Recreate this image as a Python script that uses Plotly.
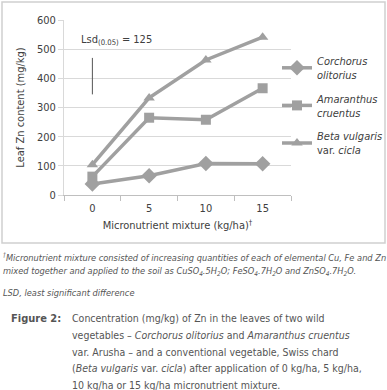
import plotly.graph_objects as go

doses = ["0", "5", "10", "15"]
corchorus = [38, 66, 108, 107]
amaranthus = [63, 265, 258, 366]
beta = [104, 333, 463, 541]
lsd_x = ["0", "0"]
lsd_y = [345, 470]
y_ticks = [0, 100, 200, 300, 400, 500, 600]

W, H = 387, 390
L, R, T, B = 64, 291, 20, 195

def px(x):
    return (x - L) / (R - L)

def py(y):
    return (B - y) / (B - T)

FONT = "DejaVu Sans Condensed, Liberation Sans, Arial"
LINE = "#a0a0a0"
TXT = "#404040"
FS = 11

fig = go.Figure()
series = [
    ("<i>Corchorus</i><br><i>olitorius</i>", corchorus, "diamond", 12),
    ("<i>Amaranthus</i><br><i>cruentus</i>", amaranthus, "square", 10),
    ("<i>Beta vulgaris</i><br>var. <i>cicla</i>", beta, "triangle-up", 10),
]
for i, (name, vals, sym, sz) in enumerate(series):
    fig.add_trace(go.Scatter(
        x=doses, y=vals, name=name, mode="lines+markers", legendgroup=str(i),
        line=dict(color=LINE, width=3.5),
        marker=dict(symbol=sym, size=sz, color=LINE),
    ))

fig.add_trace(go.Scatter(
    x=lsd_x, y=lsd_y, mode="lines", showlegend=False,
    line=dict(color="#555555", width=1), hoverinfo="skip",
))

fig.update_layout(
    width=W, height=H,
    margin=dict(l=L, r=W - R, t=T, b=H - B, autoexpand=False),
    paper_bgcolor="white", plot_bgcolor="white",
    font=dict(family=FONT, size=FS, color=TXT),
    legend=dict(
        x=px(277), y=py(47), xanchor="left", yanchor="top",
        font=dict(family=FONT, size=FS, color=TXT),
        itemwidth=30, tracegroupgap=6, bgcolor="rgba(0,0,0,0)",
    ),
    xaxis=dict(
        type="category", range=[-0.5, 3.5],
        title=dict(text="Micronutrient mixture (kg/ha)<sup>†</sup>", standoff=7,
                   font=dict(family=FONT, size=FS, color=TXT)),
        showgrid=False, showline=True, linecolor="#bfbfbf", linewidth=1,
        ticks="outside", tickson="boundaries", ticklen=5, tickcolor="#bfbfbf",
        ticklabelstandoff=3,
        tickfont=dict(family=FONT, size=FS, color=TXT), zeroline=False,
    ),
    yaxis=dict(
        range=[0, 600], tickvals=y_ticks,
        title=dict(text="Leaf Zn content (mg/kg)", standoff=10,
                   font=dict(family=FONT, size=FS, color=TXT)),
        showgrid=True, gridcolor="#d9d9d9", gridwidth=1,
        showline=True, linecolor="#d9d9d9",
        ticks="outside", ticklen=5, tickcolor="#d9d9d9",
        tickfont=dict(family=FONT, size=FS, color=TXT), zeroline=False,
    ),
)

# chart border
fig.add_shape(type="rect", xref="paper", yref="paper",
              x0=px(2), x1=px(385), y0=py(243), y1=py(2),
              line=dict(color="#d0d0d0", width=1.5), fillcolor="rgba(0,0,0,0)", layer="below")

fig.add_annotation(xref="paper", yref="paper", x=px(79), y=py(40),
                   xanchor="left", yanchor="middle", showarrow=False,
                   text="Lsd<sub>(0.05)</sub> = 125",
                   font=dict(family=FONT, size=FS, color=TXT))

FOOT = dict(family=FONT, size=9.2, color="#555555")
foot = [
    (257, "<i><sup>†</sup>Micronutrient mixture consisted of increasing quantities of each of elemental Cu, Fe and Zn</i>"),
    (271, "<i>mixed together and applied to the soil as CuSO<sub>4</sub>.5H<sub>2</sub>O; FeSO<sub>4</sub>.7H<sub>2</sub>O and ZnSO<sub>4</sub>.7H<sub>2</sub>O.</i>"),
    (292, "<i>LSD, least significant difference</i>"),
]
for yy, t in foot:
    fig.add_annotation(xref="paper", yref="paper", x=px(1), y=py(yy),
                       xanchor="left", yanchor="middle", showarrow=False,
                       text=t, font=FOOT)

CAP = dict(family=FONT, size=10.5, color="#555555")
fig.add_annotation(xref="paper", yref="paper", x=px(9), y=py(318),
                   xanchor="left", yanchor="middle", showarrow=False,
                   text="<b>Figure 2:</b>", font=dict(family=FONT, size=11, color="#555555"))
cap = [
    (318, "Concentration (mg/kg) of Zn in the leaves of two wild"),
    (335, "vegetables – <i>Corchorus olitorius</i> and <i>Amaranthus cruentus</i>"),
    (352, "var. Arusha – and a conventional vegetable, Swiss chard"),
    (368, "(<i>Beta vulgaris</i> var. <i>cicla</i>) after application of 0 kg/ha, 5 kg/ha,"),
    (385, "10 kg/ha or 15 kg/ha micronutrient mixture."),
]
for yy, t in cap:
    fig.add_annotation(xref="paper", yref="paper", x=px(70), y=py(yy),
                       xanchor="left", yanchor="middle", showarrow=False,
                       text=t, font=CAP)

fig.write_html("out.html", config={"displayModeBar": False},
               post_script="document.body.style.margin='0px';")
